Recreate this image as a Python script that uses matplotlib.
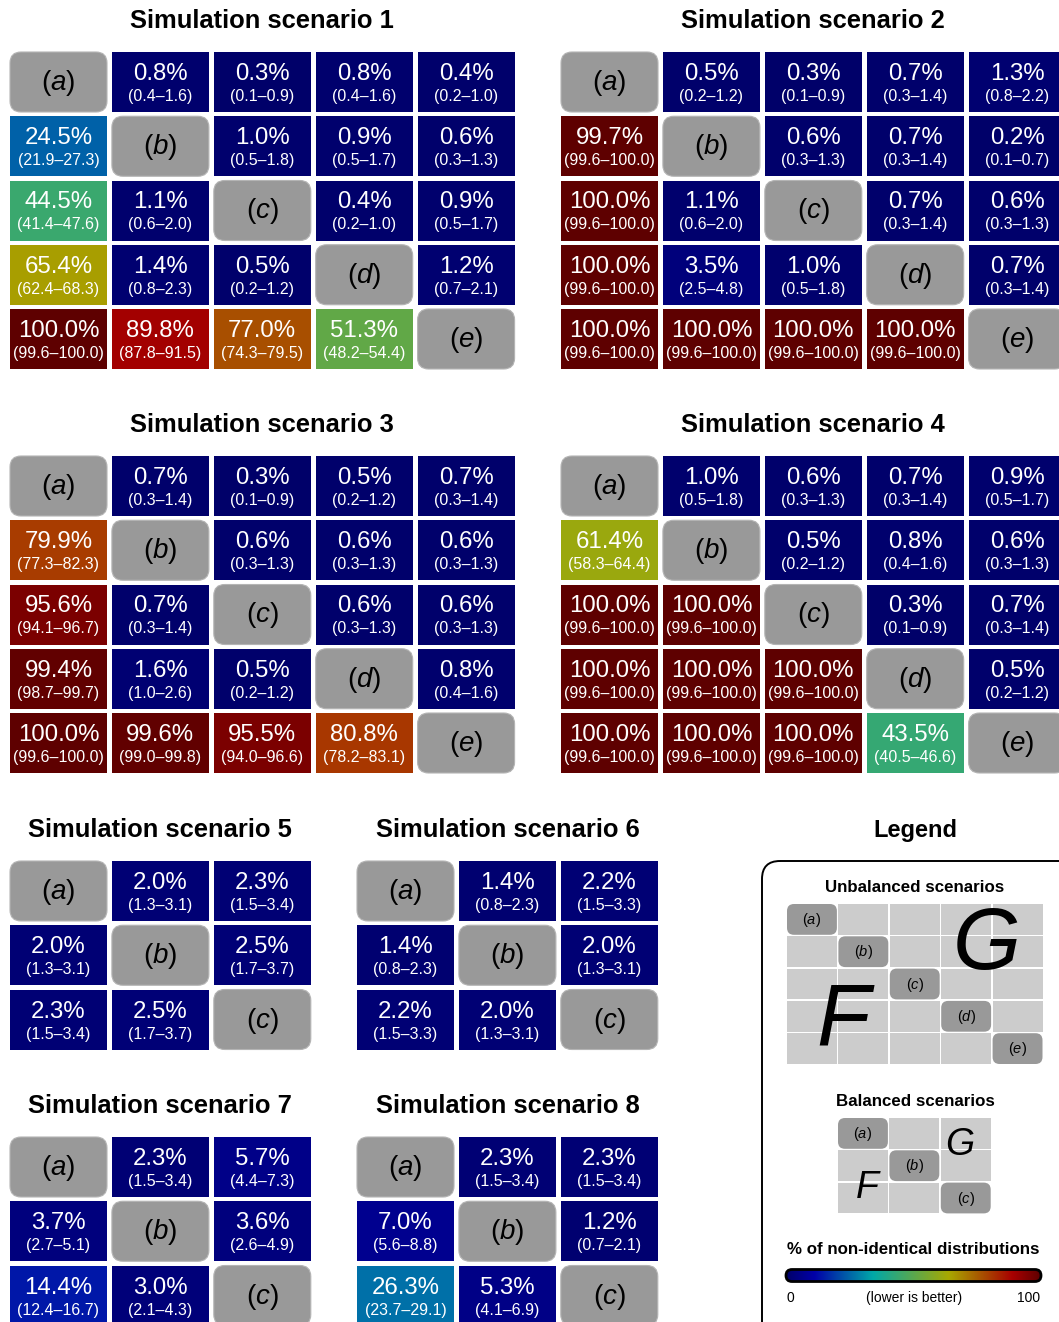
import numpy as np
import matplotlib
matplotlib.use("Agg")
from matplotlib import pyplot as plt
from matplotlib.patches import FancyBboxPatch, Rectangle
from matplotlib.colors import LinearSegmentedColormap

plt.rcParams['font.family'] = ['Liberation Sans', 'DejaVu Sans']
plt.rcParams['mathtext.fontset'] = 'custom'
plt.rcParams['mathtext.rm'] = 'Liberation Sans'
plt.rcParams['mathtext.it'] = 'Liberation Sans:italic'

nan = np.nan

# ---- data: % of non-identical distributions, with 95% CI ----
s1_pct = [[nan, 0.8, 0.3, 0.8, 0.4], [24.5, nan, 1.0, 0.9, 0.6], [44.5, 1.1, nan, 0.4, 0.9],
          [65.4, 1.4, 0.5, nan, 1.2], [100.0, 89.8, 77.0, 51.3, nan]]
s1_lo = [[nan, 0.4, 0.1, 0.4, 0.2], [21.9, nan, 0.5, 0.5, 0.3], [41.4, 0.6, nan, 0.2, 0.5],
         [62.4, 0.8, 0.2, nan, 0.7], [99.6, 87.8, 74.3, 48.2, nan]]
s1_hi = [[nan, 1.6, 0.9, 1.6, 1.0], [27.3, nan, 1.8, 1.7, 1.3], [47.6, 2.0, nan, 1.0, 1.7],
         [68.3, 2.3, 1.2, nan, 2.1], [100.0, 91.5, 79.5, 54.4, nan]]

s2_pct = [[nan, 0.5, 0.3, 0.7, 1.3], [99.7, nan, 0.6, 0.7, 0.2], [100.0, 1.1, nan, 0.7, 0.6],
          [100.0, 3.5, 1.0, nan, 0.7], [100.0, 100.0, 100.0, 100.0, nan]]
s2_lo = [[nan, 0.2, 0.1, 0.3, 0.8], [99.6, nan, 0.3, 0.3, 0.1], [99.6, 0.6, nan, 0.3, 0.3],
         [99.6, 2.5, 0.5, nan, 0.3], [99.6, 99.6, 99.6, 99.6, nan]]
s2_hi = [[nan, 1.2, 0.9, 1.4, 2.2], [100.0, nan, 1.3, 1.4, 0.7], [100.0, 2.0, nan, 1.4, 1.3],
         [100.0, 4.8, 1.8, nan, 1.4], [100.0, 100.0, 100.0, 100.0, nan]]

s3_pct = [[nan, 0.7, 0.3, 0.5, 0.7], [79.9, nan, 0.6, 0.6, 0.6], [95.6, 0.7, nan, 0.6, 0.6],
          [99.4, 1.6, 0.5, nan, 0.8], [100.0, 99.6, 95.5, 80.8, nan]]
s3_lo = [[nan, 0.3, 0.1, 0.2, 0.3], [77.3, nan, 0.3, 0.3, 0.3], [94.1, 0.3, nan, 0.3, 0.3],
         [98.7, 1.0, 0.2, nan, 0.4], [99.6, 99.0, 94.0, 78.2, nan]]
s3_hi = [[nan, 1.4, 0.9, 1.2, 1.4], [82.3, nan, 1.3, 1.3, 1.3], [96.7, 1.4, nan, 1.3, 1.3],
         [99.7, 2.6, 1.2, nan, 1.6], [100.0, 99.8, 96.6, 83.1, nan]]

s4_pct = [[nan, 1.0, 0.6, 0.7, 0.9], [61.4, nan, 0.5, 0.8, 0.6], [100.0, 100.0, nan, 0.3, 0.7],
          [100.0, 100.0, 100.0, nan, 0.5], [100.0, 100.0, 100.0, 43.5, nan]]
s4_lo = [[nan, 0.5, 0.3, 0.3, 0.5], [58.3, nan, 0.2, 0.4, 0.3], [99.6, 99.6, nan, 0.1, 0.3],
         [99.6, 99.6, 99.6, nan, 0.2], [99.6, 99.6, 99.6, 40.5, nan]]
s4_hi = [[nan, 1.8, 1.3, 1.4, 1.7], [64.4, nan, 1.2, 1.6, 1.3], [100.0, 100.0, nan, 0.9, 1.4],
         [100.0, 100.0, 100.0, nan, 1.2], [100.0, 100.0, 100.0, 46.6, nan]]

s5_pct = [[nan, 2.0, 2.3], [2.0, nan, 2.5], [2.3, 2.5, nan]]
s5_lo = [[nan, 1.3, 1.5], [1.3, nan, 1.7], [1.5, 1.7, nan]]
s5_hi = [[nan, 3.1, 3.4], [3.1, nan, 3.7], [3.4, 3.7, nan]]

s6_pct = [[nan, 1.4, 2.2], [1.4, nan, 2.0], [2.2, 2.0, nan]]
s6_lo = [[nan, 0.8, 1.5], [0.8, nan, 1.3], [1.5, 1.3, nan]]
s6_hi = [[nan, 2.3, 3.3], [2.3, nan, 3.1], [3.3, 3.1, nan]]

s7_pct = [[nan, 2.3, 5.7], [3.7, nan, 3.6], [14.4, 3.0, nan]]
s7_lo = [[nan, 1.5, 4.4], [2.7, nan, 2.6], [12.4, 2.1, nan]]
s7_hi = [[nan, 3.4, 7.3], [5.1, nan, 4.9], [16.7, 4.3, nan]]

s8_pct = [[nan, 2.3, 2.3], [7.0, nan, 1.2], [26.3, 5.3, nan]]
s8_lo = [[nan, 1.5, 1.5], [5.6, nan, 0.7], [23.7, 4.1, nan]]
s8_hi = [[nan, 3.4, 3.4], [8.8, nan, 2.1], [29.1, 6.9, nan]]

diag_labels = ['a', 'b', 'c', 'd', 'e']

# darkened jet-like palette
cmap = LinearSegmentedColormap.from_list('dimjet', [
    (0.0, (0, 0, 105 / 255)),
    (0.11, (0, 0, 168 / 255)),
    (0.34, (0, 168 / 255, 168 / 255)),
    (0.64, (168 / 255, 168 / 255, 0)),
    (0.89, (168 / 255, 0, 0)),
    (1.0, (94 / 255, 0, 0)),
])

W, H = 1059, 1322
fig = plt.figure(figsize=(W / 100, H / 100), dpi=100)
ax = fig.add_axes([0, 0, 1, 1])
ax.axis('off')

PX, PY = 101.9, 64.25
CW, CH = 97, 60
GRAY = '#999999'


def draw_panel(title, pct, lo, hi, x0, y0):
    pct = np.array(pct)
    n = pct.shape[0]
    ax.text(x0 + (n * PX - (PX - CW)) / 2, y0 - 31, title, ha='center', va='center',
            fontsize=18.4, fontweight='bold')
    for i in range(n):
        for j in range(n):
            x = x0 + j * PX
            y = y0 + i * PY
            if i == j:
                ax.add_patch(FancyBboxPatch((x, y), CW, CH, boxstyle='round,pad=0,rounding_size=11',
                                            facecolor=GRAY, edgecolor='#b4b4b4', lw=0.8))
                ax.text(x + CW / 2, y + CH / 2 + 1, r'$(\mathit{%s})$' % diag_labels[i],
                        ha='center', va='center', fontsize=20)
                continue
            v = pct[i][j]
            ax.add_patch(Rectangle((x, y), CW, CH, facecolor=cmap(v / 100), edgecolor='none'))
            ax.text(x + CW / 2, y + 28, f'{v:.1f}%', ha='center', va='baseline',
                    fontsize=17.3, color='white')
            ax.text(x + CW / 2, y + 49, f'({lo[i][j]:.1f}\u2013{hi[i][j]:.1f})', ha='center',
                    va='baseline', fontsize=11.5, color='white')


draw_panel('Simulation scenario 1', s1_pct, s1_lo, s1_hi, 10, 52)
draw_panel('Simulation scenario 2', s2_pct, s2_lo, s2_hi, 561, 52)
draw_panel('Simulation scenario 3', s3_pct, s3_lo, s3_hi, 10, 456)
draw_panel('Simulation scenario 4', s4_pct, s4_lo, s4_hi, 561, 456)
draw_panel('Simulation scenario 5', s5_pct, s5_lo, s5_hi, 10, 861)
draw_panel('Simulation scenario 6', s6_pct, s6_lo, s6_hi, 357, 861)
draw_panel('Simulation scenario 7', s7_pct, s7_lo, s7_hi, 10, 1137)
draw_panel('Simulation scenario 8', s8_pct, s8_lo, s8_hi, 357, 1137)

# ---- legend ----
ax.text(915, 831, 'Legend', ha='center', va='center', fontsize=17, fontweight='bold')
ax.add_patch(FancyBboxPatch((762, 861), 400, 520, boxstyle='round,pad=0,rounding_size=18',
                            facecolor='none', edgecolor='black', lw=1.4))


def legend_grid(n, x0, y0, title, big):
    ax.text(915, y0 - 17, title, ha='center', va='center', fontsize=12.2, fontweight='bold')
    lpx, lpy = 51.4, 32.3
    for i in range(n):
        for j in range(n):
            x = x0 + j * lpx
            y = y0 + i * lpy
            if i == j:
                ax.add_patch(FancyBboxPatch((x, y), lpx - 1.5, lpy - 1.5,
                                            boxstyle='round,pad=0,rounding_size=7',
                                            facecolor=GRAY, edgecolor='none', zorder=2))
                ax.text(x + (lpx - 1.5) / 2, y + lpy / 2, r'$(\mathit{%s})$' % diag_labels[i],
                        ha='center', va='center', fontsize=10.5, zorder=3)
            else:
                ax.add_patch(Rectangle((x, y), lpx - 1.5, lpy - 1.5, facecolor='#cccccc',
                                       edgecolor='none', zorder=1))
    size, gpos, fpos = big
    ax.text(gpos[0], gpos[1], 'G', ha='center', va='center', fontsize=size, style='italic', zorder=4)
    ax.text(fpos[0], fpos[1], 'F', ha='center', va='center', fontsize=size, style='italic', zorder=4)


legend_grid(5, 787, 904, 'Unbalanced scenarios', (63, (987, 947), (843, 1022)))
legend_grid(3, 838, 1118, 'Balanced scenarios', (27, (960, 1145), (867, 1188)))

ax.text(913, 1250, '% of non-identical distributions', ha='center', va='center',
        fontsize=12.2, fontweight='bold')
bar = FancyBboxPatch((786, 1269.5), 255, 12, boxstyle='round,pad=0,rounding_size=6',
                     facecolor='none', edgecolor='black', lw=2, zorder=6)
ax.add_patch(bar)
img = ax.imshow(np.linspace(0, 1, 256)[None, :], extent=[786, 1041, 1281.5, 1269.5],
                cmap=cmap, aspect='auto', zorder=5)
img.set_clip_path(bar)
ax.text(790, 1298, '0', ha='center', va='center', fontsize=10)
ax.text(914, 1298, '(lower is better)', ha='center', va='center', fontsize=10)
ax.text(1029, 1298, '100', ha='center', va='center', fontsize=10)

ax.set_xlim(0, W)
ax.set_ylim(H, 0)
fig.savefig('out.png', dpi=100)
